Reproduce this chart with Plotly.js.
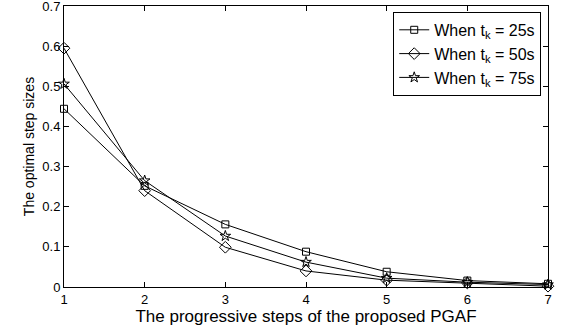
<!DOCTYPE html>
<html><head><meta charset="utf-8">
<script src="https://cdn.plot.ly/plotly-3.0.1.min.js"></script>
<style>html,body{margin:0;padding:0;background:#fff}#plot{width:567px;height:327px}</style>
</head><body><div id="plot"></div>
<script>
var steps = [1, 2, 3, 4, 5, 6, 7];
var tk25 = [0.444, 0.252, 0.156, 0.088, 0.038, 0.016, 0.008];
var tk50 = [0.595, 0.240, 0.099, 0.040, 0.017, 0.010, 0.002];
var tk75 = [0.506, 0.265, 0.127, 0.062, 0.022, 0.012, 0.006];
var names = ['When t<sub>k</sub> = 25s', 'When t<sub>k</sub> = 50s', 'When t<sub>k</sub> = 75s'];
var yTicks = [0, 0.1, 0.2, 0.3, 0.4, 0.5, 0.6, 0.7];
var yTickText = ['0', '0.1', '0.2', '0.3', '0.4', '0.5', '0.6', '0.7'];

var FONT = 'Liberation Sans, Arial, Helvetica, sans-serif';
function tr(y, name, sym, sz) {
  return {x: steps, y: y, name: name, mode: 'lines+markers', type: 'scatter', cliponaxis: false,
    line: {color: '#000', width: 1},
    marker: {symbol: sym, size: sz, color: 'rgba(255,255,255,0)', line: {color: '#000', width: 1}}};
}
var data = [
  tr(tk25, names[0], 'square', 7),
  tr(tk50, names[1], 'diamond', 9),
  tr(tk75, names[2], 'star', 8)
];
var axBase = {showgrid: false, zeroline: false, showline: true, linecolor: '#000', linewidth: 1,
  mirror: 'ticks', ticks: 'inside', ticklen: 5, tickcolor: '#000', ticklabeloverflow: 'allow',
  tickfont: {family: FONT, size: 13, color: '#000'}};
var layout = {
  width: 567, height: 327,
  margin: {l: 64, r: 19, t: 6, b: 40},
  paper_bgcolor: '#fff', plot_bgcolor: '#fff',
  font: {family: FONT, color: '#000'},
  showlegend: true,
  legend: {x: 0.986, y: 0.979, xanchor: 'right', yanchor: 'top', bordercolor: '#000', borderwidth: 1,
    bgcolor: '#fff', font: {family: FONT, size: 16, color: '#000'}, tracegroupgap: 0},
  xaxis: Object.assign({}, axBase, {range: [1, 7], tickvals: steps, ticktext: steps.map(String),
    title: {text: 'The progressive steps of the proposed PGAF', font: {family: FONT, size: 17, color: '#000'}, standoff: 0}}),
  yaxis: Object.assign({}, axBase, {range: [0, 0.7001], tickvals: yTicks, ticktext: yTickText,
    title: {text: 'The optimal step sizes', font: {family: FONT, size: 14, color: '#000'}, standoff: 4}})
};
Plotly.newPlot('plot', data, layout, {staticPlot: true, displayModeBar: false});
</script></body></html>
